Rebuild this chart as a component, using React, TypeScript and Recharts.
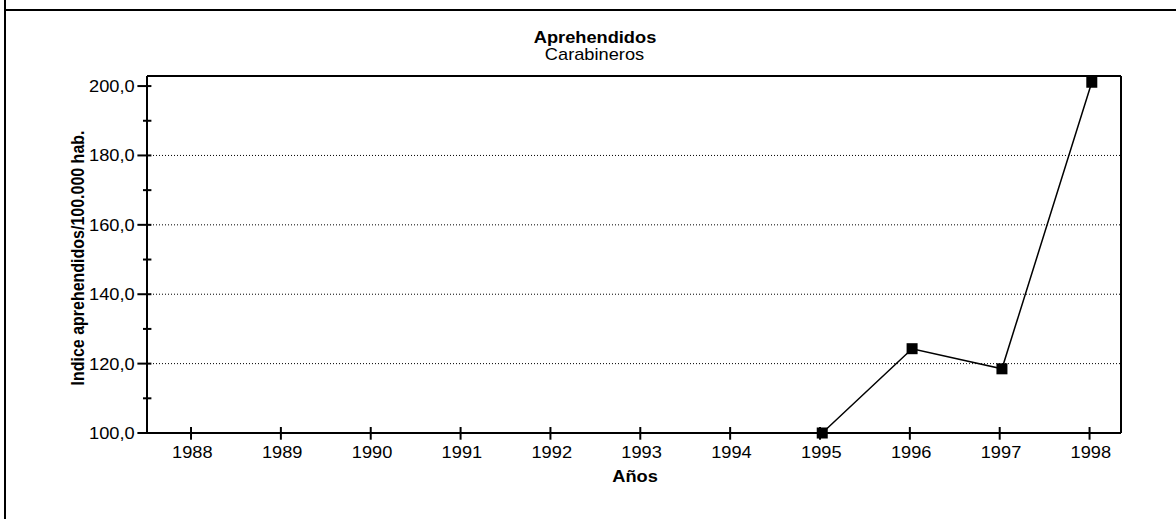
import React from 'react';
import { LineChart, Line, XAxis, YAxis, ReferenceLine } from 'recharts';

// ---- data ----
const xTickYears = [1988, 1989, 1990, 1991, 1992, 1993, 1994, 1995, 1996, 1997, 1998];
const seriesYears = [1995, 1996, 1997, 1998];
const seriesValues = [100, 124.3, 118.5, 201.1];
const yMajorTicks = [100, 120, 140, 160, 180, 200];
const yMinorTicks = [110, 130, 150, 170, 190];
const gridValues = [120, 140, 160, 180];
const chartTitle = 'Aprehendidos';
const chartSubtitle = 'Carabineros';
const xTitle = 'Años';
const yTitle = 'Indice aprehendidos/100.000 hab.';

const data = seriesYears.map((year, i) => ({ year, value: seriesValues[i] }));
const allYTicks = [...yMajorTicks, ...yMinorTicks].sort((a, b) => a - b);

const W = 1176;
const H = 519;
const X_DOMAIN: [number, number] = [1987.51, 1998.35];
const X_DATA_DOMAIN: [number, number] = [1987.485, 1998.325];
const Y_DOMAIN: [number, number] = [100, 202.9];
const FONT = "'Liberation Sans', Arial, Helvetica, sans-serif";
const SX = 1.14;

const fmt = (v: number) => v.toFixed(1).replace('.', ',');

function SText(props: {
  x: number;
  y: number;
  children: React.ReactNode;
  weight?: string | number;
  anchor?: 'start' | 'middle' | 'end';
  rotate?: number;
  size?: number;
}) {
  const { x, y, children, weight = 'normal', anchor = 'middle', rotate = 0, size = 16 } = props;
  return (
    <text
      transform={`translate(${x},${y}) scale(${SX},1)${rotate ? ` rotate(${rotate})` : ''}`}
      textAnchor={anchor}
      fontSize={size}
      fontWeight={weight}
      fontFamily={FONT}
      fill="#000"
    >
      {children}
    </text>
  );
}

const YTick = (props: any) => {
  const { x, y, payload } = props;
  const v = payload.value as number;
  const major = yMajorTicks.includes(v);
  return (
    <g>
      <line x1={x - (major ? 9.6 : 4)} x2={x + 4.4} y1={y} y2={y} stroke="#000" strokeWidth={2} />
      {major && (
        <SText x={x - 12.3} y={y + 6} anchor="end">
          {fmt(v)}
        </SText>
      )}
    </g>
  );
};

const XTick = (props: any) => {
  const { x, y, payload } = props;
  return (
    <g>
      <line x1={x} x2={x} y1={y - 6} y2={y + 6.7} stroke="#000" strokeWidth={2} />
      <SText x={x + 1.3} y={y + 25}>
        {String(payload.value)}
      </SText>
    </g>
  );
};

const SquareDot = (props: any) => {
  const { cx, cy, index } = props;
  if (cx == null || cy == null) return null;
  return <rect key={`d${index}`} x={cx - 5.5} y={cy - 5.5} width={11} height={11} fill="#000" />;
};

export default function App() {
  const axisLine = { stroke: '#000', strokeWidth: 2 };
  return (
    <div style={{ position: 'absolute', left: 0, top: 0, width: W, height: H, overflow: 'hidden', background: '#fff' }}>
      <div style={{ position: 'absolute', left: 0, top: 0 }}>
        <LineChart width={W} height={H} data={data} margin={{ top: 0, right: 0, bottom: 0, left: 0 }}>
          <XAxis
            type="number"
            dataKey="year"
            domain={X_DOMAIN}
            ticks={xTickYears}
            interval={0}
            tickSize={0}
            tickMargin={0}
            tickLine={false}
            tick={<XTick />}
            axisLine={axisLine}
            height={86}
          />
          <XAxis
            xAxisId="top"
            orientation="top"
            type="number"
            dataKey="year"
            domain={X_DOMAIN}
            tick={false}
            tickLine={false}
            axisLine={axisLine}
            height={76}
          />
          <XAxis
            xAxisId="data"
            type="number"
            dataKey="year"
            domain={X_DATA_DOMAIN}
            hide
          />
          <YAxis
            type="number"
            domain={Y_DOMAIN}
            ticks={allYTicks}
            interval={0}
            tickSize={0}
            tickMargin={0}
            tickLine={false}
            tick={<YTick />}
            axisLine={axisLine}
            width={147}
          />
          <YAxis
            yAxisId="right"
            orientation="right"
            type="number"
            domain={Y_DOMAIN}
            tick={false}
            tickLine={false}
            axisLine={axisLine}
            width={55}
          />
          {gridValues.map((g) => (
            <ReferenceLine key={g} y={g} stroke="#000" strokeWidth={1} strokeDasharray="1 2" />
          ))}
          <Line
            xAxisId="data"
            type="linear"
            dataKey="value"
            stroke="#000"
            strokeWidth={1.5}
            dot={<SquareDot />}
            activeDot={false}
            isAnimationActive={false}
          />
        </LineChart>
      </div>
      <svg width={W} height={H} style={{ position: 'absolute', left: 0, top: 0, pointerEvents: 'none' }}>
        <line x1={5} y1={0} x2={5} y2={H} stroke="#000" strokeWidth={2} />
        <line x1={4} y1={10} x2={W} y2={10} stroke="#000" strokeWidth={2} />
        <SText x={595} y={43.3} weight="bold">{chartTitle}</SText>
        <SText x={594.5} y={60.3}>{chartSubtitle}</SText>
        <SText x={635} y={481.5} weight="bold">{xTitle}</SText>
        <SText x={84} y={258} weight="bold" rotate={-90}>{yTitle}</SText>
      </svg>
    </div>
  );
}
